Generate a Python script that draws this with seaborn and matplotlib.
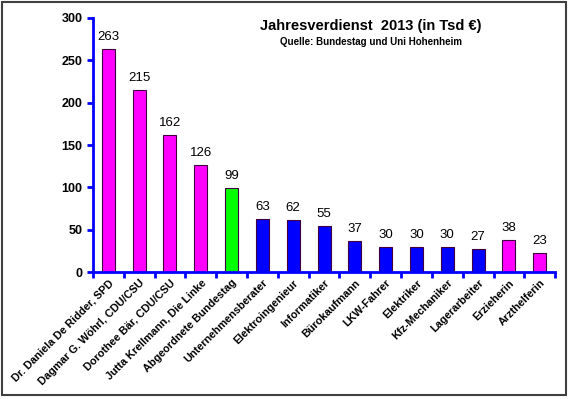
import numpy as np
import pandas as pd
import matplotlib
matplotlib.use("Agg")
import matplotlib.pyplot as plt
import seaborn as sns
from matplotlib.patches import Rectangle

# Daten
berufe = ["Dr. Daniela De Ridder, SPD", "Dagmar G. Wöhrl, CDU/CSU", "Dorothee Bär, CDU/CSU",
          "Jutta Krellmann, Die Linke", "Abgeordnete Bundestag", "Unternehmensberater",
          "Elektroingenieur", "Informatiker", "Bürokaufmann", "LKW-Fahrer", "Elektriker",
          "Kfz-Mechaniker", "Lagerarbeiter", "Erzieherin", "Arzthelferin"]
verdienst = [263, 215, 162, 126, 99, 63, 62, 55, 37, 30, 30, 30, 27, 38, 23]
gruppe = ["frau", "frau", "frau", "frau", "bundestag", "mann", "mann", "mann", "mann",
          "mann", "mann", "mann", "mann", "frau", "frau"]
farben = {"frau": "#FF00FF", "bundestag": "#00FF00", "mann": "#0000FF"}

df = pd.DataFrame({"beruf": berufe, "verdienst": verdienst, "gruppe": gruppe})

sns.set_style("white")
plt.rcParams['font.family'] = ['Liberation Sans', 'DejaVu Sans']
plt.rcParams['text.color'] = 'black'
plt.rcParams['xtick.color'] = 'black'
plt.rcParams['ytick.color'] = 'black'

fig = plt.figure(figsize=(5.7, 3.99), dpi=100)
ax = fig.add_axes([0.163, 0.318, 0.811, 0.637])

sns.barplot(data=df, x="beruf", y="verdienst", hue="gruppe", palette=farben, saturation=1,
            dodge=False, width=0.42, legend=False, edgecolor="#400040", linewidth=0.8, ax=ax)

# Werte über den Balken
for i, v in enumerate(verdienst):
    ax.text(i, v + 7, str(v), ha="center", va="bottom", fontsize=9.5, color="black")

ax.set_xlim(-0.5, len(berufe) - 0.5)
ax.set_ylim(0, 300)
ax.set_yticks(range(0, 301, 50))
ax.set_xlabel("")
ax.set_ylabel("")

for s in ["top", "right"]:
    ax.spines[s].set_visible(False)
for s in ["left", "bottom"]:
    ax.spines[s].set_color("#0000FF")
    ax.spines[s].set_linewidth(2)

ax.tick_params(axis="y", length=4, width=2, color="#0000FF", labelcolor="black",
               labelsize=9, direction="out", left=True)
for t in ax.get_yticklabels():
    t.set_fontweight("bold")

# x-Achse: Striche zwischen den Kategorien
ax.set_xticks(np.arange(-0.5, len(berufe), 1), minor=True)
ax.tick_params(axis="x", which="minor", length=4, width=2, color="#0000FF", bottom=True, direction="out")
ax.tick_params(axis="x", which="major", length=0, pad=4, labelcolor="black")
ax.set_xticks(range(len(berufe)))
ax.set_xticklabels(berufe, rotation=45, ha="right", rotation_mode="anchor",
                   fontsize=7.8, fontweight="bold")

fig.text(0.65, 0.935, "Jahresverdienst  2013 (in Tsd €)", ha="center", va="center",
         fontsize=10.5, fontweight="bold")
fig.text(0.65, 0.895, "Quelle: Bundestag und Uni Hohenheim", ha="center", va="center",
         fontsize=7, fontweight="bold")

# Rahmen
fig.patches.append(Rectangle((0.003, 0.01), 0.99, 0.985, transform=fig.transFigure,
                             fill=False, edgecolor="#404040", linewidth=1.5))

fig.savefig("out.png", dpi=100)
